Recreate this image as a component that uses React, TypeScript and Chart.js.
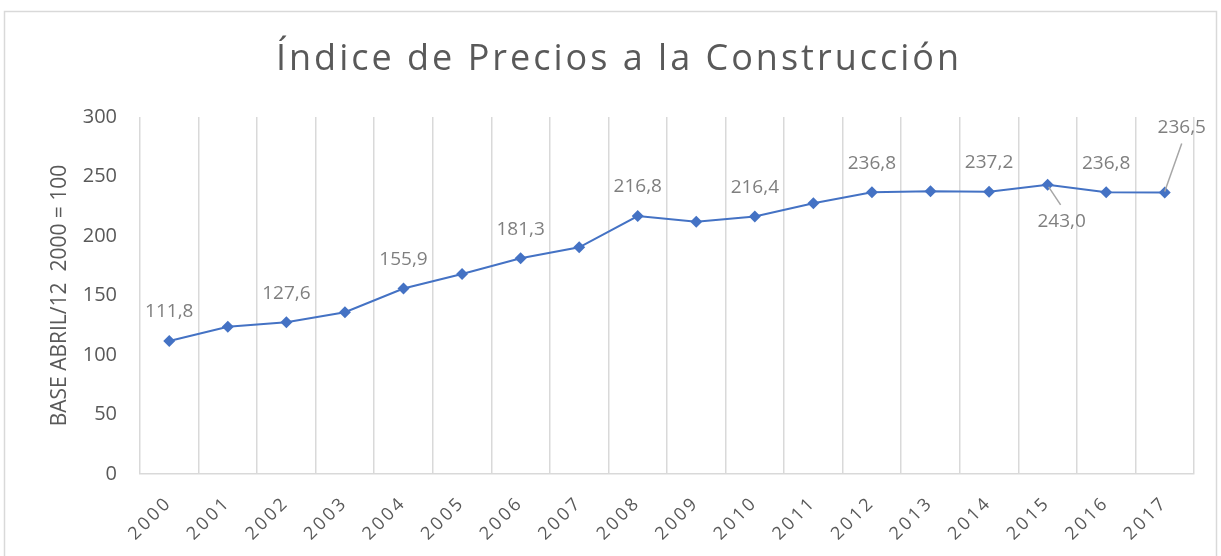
import React, { useEffect, useRef } from "react";
import { Chart, registerables } from "chart.js";

Chart.register(...registerables);

const TITLE = "Índice de Precios a la Construcción";
const Y_TITLE = "BASE ABRIL/12  2000 = 100";
const years = ["2000","2001","2002","2003","2004","2005","2006","2007","2008","2009","2010","2011","2012","2013","2014","2015","2016","2017"];
const values = [111.8, 123.8, 127.6, 135.9, 155.9, 168.0, 181.3, 190.5, 216.8, 212.0, 216.4, 227.6, 236.8, 237.6, 237.2, 243.0, 236.8, 236.5];
const labeledIdx = [0, 2, 4, 6, 8, 10, 12, 14, 15, 16, 17];
const yTicks = [0, 50, 100, 150, 200, 250, 300];

const FONT = "'Open Sans', 'Noto Sans', sans-serif";
const GREY_TEXT = "#595959";
const LABEL_GREY = "#7f7f7f";
const LINE_BLUE = "#4472C4";

const fmt = (v: number) => v.toFixed(1).replace(".", ",");

const decorPlugin = {
  id: "decor",
  beforeDraw(chart: any) {
    const ctx = chart.ctx;
    (ctx as any).letterSpacing = "0px";
    ctx.save();
    ctx.fillStyle = "#ffffff";
    ctx.fillRect(0, 0, chart.width, chart.height);
    ctx.strokeStyle = "#d9d9d9";
    ctx.lineWidth = 1.5;
    ctx.strokeRect(4.5, 11.5, chart.width - 9, chart.height + 20);
    ctx.restore();
  },
  afterDraw(chart: any) {
    const ctx = chart.ctx;
    const area = chart.chartArea;
    ctx.save();
    ctx.fillStyle = GREY_TEXT;
    ctx.font = `36px ${FONT}`;
    ctx.textAlign = "center";
    ctx.textBaseline = "middle";
    (ctx as any).letterSpacing = "3px";
    ctx.fillText(TITLE, 619, 60);
    ctx.restore();

    ctx.save();
    ctx.fillStyle = GREY_TEXT;
    ctx.font = `21px ${FONT}`;
    ctx.textAlign = "center";
    ctx.textBaseline = "middle";
    ctx.translate(60, (area.top + area.bottom) / 2);
    ctx.rotate(-Math.PI / 2);
    ctx.fillText(Y_TITLE, 0, 0);
    ctx.restore();
  },
};

const labelPlugin = {
  id: "pointLabels",
  afterDatasetsDraw(chart: any) {
    const ctx = chart.ctx;
    const meta = chart.getDatasetMeta(0);
    ctx.save();
    ctx.font = `19px ${FONT}`;
    ctx.fillStyle = LABEL_GREY;
    ctx.strokeStyle = "#a6a6a6";
    ctx.lineWidth = 1.5;
    ctx.textAlign = "center";
    ctx.textBaseline = "middle";
    labeledIdx.forEach((i) => {
      const pt = meta.data[i];
      const x = pt.x;
      const y = pt.y;
      const txt = fmt(values[i]);
      if (i === 15) {
        ctx.beginPath();
        ctx.moveTo(x + 1, y + 2);
        ctx.lineTo(x + 13, y + 20);
        ctx.stroke();
        ctx.fillText(txt, x + 14, y + 37);
      } else if (i === 17) {
        ctx.beginPath();
        ctx.moveTo(x, y - 1);
        ctx.lineTo(x + 17, y - 49);
        ctx.stroke();
        ctx.fillText(txt, x + 17, y - 65);
      } else {
        ctx.fillText(txt, x, y - 29);
      }
    });
    ctx.restore();
  },
};

export default function App() {
  const ref = useRef<HTMLCanvasElement | null>(null);
  useEffect(() => {
    if (!ref.current) return;
    const xScaleDrawPatch = (scale: any) => {
      if (scale._patched) return;
      scale._patched = true;
      const orig = scale.drawLabels.bind(scale);
      scale.drawLabels = (area: any) => {
        const ctx = scale.ctx;
        const prev = (ctx as any).letterSpacing;
        (ctx as any).letterSpacing = "3px";
        orig(area);
        (ctx as any).letterSpacing = prev;
      };
    };
    const chart = new Chart(ref.current, {
      type: "line",
      data: {
        labels: years,
        datasets: [
          {
            data: values,
            borderColor: LINE_BLUE,
            backgroundColor: LINE_BLUE,
            borderWidth: 2,
            pointStyle: "rectRot",
            pointRadius: 6,
            pointBorderWidth: 0,
            pointBackgroundColor: LINE_BLUE,
            tension: 0,
          },
        ],
      },
      options: {
        animation: false,
        responsive: false,
        maintainAspectRatio: false,
        layout: { padding: { top: 117, right: 27, bottom: 0, left: 0 } },
        plugins: {
          legend: { display: false },
          tooltip: { enabled: false },
          title: { display: false },
        },
        scales: {
          x: {
            offset: true,
            grid: {
              display: true,
              offset: true,
              color: "#d9d9d9",
              lineWidth: 1.5,
              drawTicks: false,
            },
            border: { display: true, color: "#d9d9d9", width: 1.5 },
            ticks: {
              color: GREY_TEXT,
              font: { family: FONT, size: 18 },
              minRotation: 45,
              maxRotation: 45,
              padding: 18,
              autoSkip: false,
            },
            afterFit(scale: any) {
              scale.height = 82;
              xScaleDrawPatch(scale);
            },
          },
          y: {
            min: 0,
            max: 300,
            afterBuildTicks(scale: any) {
              scale.ticks = yTicks.map((v) => ({ value: v }));
            },
            grid: { display: false, drawTicks: false },
            border: { display: false },
            ticks: {
              color: GREY_TEXT,
              font: { family: FONT, size: 20 },
              padding: 23,
            },
            afterFit(scale: any) {
              scale.width = 140;
            },
          },
        },
      },
      plugins: [decorPlugin, labelPlugin],
    });
    return () => chart.destroy();
  }, []);
  return (
    <div style={{ position: "fixed", left: 0, top: 0, width: 1221, height: 556, background: "#fff" }}>
      <canvas ref={ref} width={1221} height={556} style={{ width: 1221, height: 556, display: "block" }} />
    </div>
  );
}
